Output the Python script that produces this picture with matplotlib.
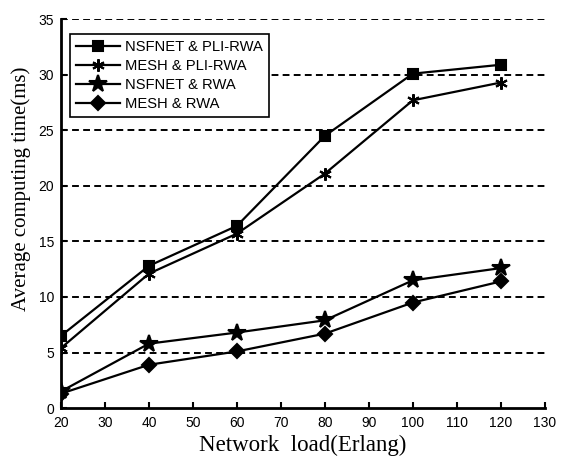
import matplotlib
matplotlib.use("Agg")
import matplotlib.pyplot as plt

loads = [20, 40, 60, 80, 100, 120]
nsfnet_pli = [6.5, 12.8, 16.4, 24.5, 30.1, 30.9]
mesh_pli = [5.4, 12.1, 15.7, 21.1, 27.7, 29.3]
nsfnet_rwa = [1.5, 5.8, 6.8, 7.9, 11.5, 12.6]
mesh_rwa = [1.3, 3.9, 5.1, 6.7, 9.5, 11.4]
labels = ["NSFNET & PLI-RWA", "MESH & PLI-RWA", "NSFNET & RWA", "MESH & RWA"]
xticks = list(range(20, 131, 10))
yticks = list(range(0, 36, 5))

fig = plt.figure(figsize=(5.64, 4.57), dpi=100)
ax = fig.add_axes([0.108, 0.107, 0.858, 0.851])

series = [nsfnet_pli, mesh_pli, nsfnet_rwa, mesh_rwa]
markers = ["s", (6, 2, 0), "*", "D"]
msizes = [7, 9, 13, 7]
for y, lab, m, ms in zip(series, labels, markers, msizes):
    ax.plot(loads, y, color="black", lw=1.6, marker=m, markersize=ms,
            markerfacecolor="black", markeredgecolor="black", markeredgewidth=1.5,
            label=lab)

ax.set_xlim(20, 130)
ax.set_ylim(0, 35)
ax.set_xticks(xticks)
ax.set_yticks(yticks)
for yv in yticks[1:]:
    ax.axhline(yv, color="black", lw=1.4, ls=(0, (3.5, 2.2)), zorder=0)

for s in ["top", "right"]:
    ax.spines[s].set_visible(False)
for s in ["left", "bottom"]:
    ax.spines[s].set_linewidth(2)
ax.tick_params(direction="in", length=4, width=1.5, labelsize=10)
ax.tick_params(axis="x", pad=6)
ax.tick_params(axis="y", pad=5)
for t in ax.get_xticklabels() + ax.get_yticklabels():
    t.set_fontfamily("Liberation Sans")

ax.set_xlabel("Network  load(Erlang)", fontfamily="Liberation Serif", fontsize=16.5)
ax.xaxis.set_label_coords(0.5, -0.068)
ax.set_ylabel("Average computing time(ms)", fontfamily="Liberation Serif", fontsize=15)
ax.yaxis.set_label_coords(-0.062, 0.563)

leg = ax.legend(loc="upper left", bbox_to_anchor=(0.0, 0.985), prop={"family": "Liberation Sans", "size": 10.6},
                frameon=True, fancybox=False, edgecolor="black", framealpha=1,
                handlelength=3, handletextpad=0.35, borderpad=0.4, labelspacing=0.35,
                borderaxespad=0.6)
leg.get_frame().set_linewidth(1.2)

fig.savefig("out.png", dpi=100)
